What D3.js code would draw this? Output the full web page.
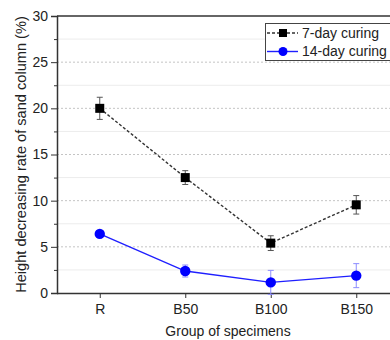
<!DOCTYPE html>
<html>
<head>
<meta charset="utf-8">
<script src="https://cdn.jsdelivr.net/npm/d3@7"></script>
<style>
  body { margin: 0; background: #fff; }
  svg { display: block; font-family: "Liberation Sans", Arial, sans-serif; }
</style>
</head>
<body>
<div id="app"></div>
<script>
const groups = ['R', 'B50', 'B100', 'B150'];
const day7 = [20.0, 12.5, 5.4, 9.55];
const day7Err = [1.2, 0.75, 0.8, 1.0];
const day14 = [6.4, 2.38, 1.15, 1.88];
const day14Err = [0.15, 0.65, 1.3, 1.3];
const yTicks = [0, 5, 10, 15, 20, 25, 30];
const yMinor = [2.5, 7.5, 12.5, 17.5, 22.5, 27.5];
const legendLabels = ['7-day curing', '14-day curing'];

const W = 390, H = 340;
const padL = 57, padT = 16, padB = 293, padR = 399;

const svg = d3.select('#app').append('svg')
  .attr('width', W).attr('height', H);

const x = d3.scaleLinear().domain([0.5, 4.5]).range([padL, padR]);
const y = d3.scaleLinear().domain([0, 30]).range([padB, padT]);

// grid
svg.append('g').selectAll('line').data(yMinor).enter().append('line')
  .attr('x1', padL).attr('x2', W)
  .attr('y1', d => y(d)).attr('y2', d => y(d))
  .attr('stroke', '#ececec').attr('stroke-width', 1);
svg.append('g').selectAll('line').data(yTicks.slice(1, -1)).enter().append('line')
  .attr('x1', padL).attr('x2', W)
  .attr('y1', d => y(d)).attr('y2', d => y(d))
  .attr('stroke', '#c4c4c4').attr('stroke-width', 1)
  .attr('stroke-dasharray', '2,2');

// frame top
svg.append('line').attr('x1', padL).attr('x2', W)
  .attr('y1', y(30)).attr('y2', y(30))
  .attr('stroke', '#333').attr('stroke-width', 1.5);

// y axis
svg.append('g').attr('transform', `translate(${padL},0)`)
  .call(d3.axisLeft(y).tickValues(yTicks).tickSize(6).tickPadding(3));
svg.append('g').attr('transform', `translate(${padL},0)`)
  .call(d3.axisLeft(y).tickValues(yMinor).tickSize(3).tickFormat(''))
  .call(g => g.select('.domain').remove());

// x axis
const xAxis = svg.append('g').attr('transform', `translate(0,${padB})`)
  .call(d3.axisBottom(x).tickValues([1, 2, 3, 4])
    .tickFormat((d, i) => groups[i]).tickSize(5).tickPadding(6)
    .tickSizeOuter(0));
xAxis.select('.domain').attr('d', `M${padL},0.5H${W}`);

svg.selectAll('.domain').attr('stroke', '#333').attr('stroke-width', 1.5);
svg.selectAll('.tick line').attr('stroke', '#333');
svg.selectAll('.tick text').attr('font-size', 14).attr('fill', '#222')
  .attr('font-family', '"Liberation Sans", Arial, sans-serif');

// axis titles
svg.append('text')
  .attr('transform', `translate(21,${(padT + padB) / 2}) rotate(-90)`)
  .attr('text-anchor', 'middle').attr('dy', '0.35em')
  .attr('font-size', 14.6).attr('fill', '#222')
  .text('Height decreasing rate of sand column (%)');
svg.append('text')
  .attr('x', 228).attr('y', 331).attr('dy', '0.35em')
  .attr('text-anchor', 'middle')
  .attr('font-size', 14).attr('fill', '#222')
  .text('Group of specimens');

// series
const idx = d3.range(groups.length);
const line = vals => d3.line().x(i => x(i + 1)).y(i => y(vals[i]))(idx);

svg.append('path').attr('d', line(day7))
  .attr('fill', 'none').attr('stroke', '#333').attr('stroke-width', 1.4)
  .attr('stroke-dasharray', '3,2');
svg.append('path').attr('d', line(day14))
  .attr('fill', 'none').attr('stroke', '#1f1fff').attr('stroke-width', 1.4);

function errorBars(vals, errs, color) {
  const g = svg.append('g').attr('stroke', color).attr('stroke-width', 1);
  idx.forEach(i => {
    const cx = x(i + 1);
    g.append('line').attr('x1', cx).attr('x2', cx)
      .attr('y1', y(vals[i] - errs[i])).attr('y2', y(vals[i] + errs[i]));
    [vals[i] - errs[i], vals[i] + errs[i]].forEach(v => {
      g.append('line').attr('x1', cx - 3).attr('x2', cx + 3)
        .attr('y1', y(v)).attr('y2', y(v));
    });
  });
}
errorBars(day7, day7Err, '#555');
errorBars(day14, day14Err, '#8c8cff');

svg.append('g').selectAll('rect').data(idx).enter().append('rect')
  .attr('x', i => x(i + 1) - 4.5).attr('y', i => y(day7[i]) - 4.5)
  .attr('width', 9).attr('height', 9).attr('fill', '#000');
svg.append('g').selectAll('circle').data(idx).enter().append('circle')
  .attr('cx', i => x(i + 1)).attr('cy', i => y(day14[i]))
  .attr('r', 5.2).attr('fill', '#0000ff');

// legend
const lg = svg.append('g');
lg.append('rect').attr('x', 265.5).attr('y', 23.5).attr('width', 140).attr('height', 37)
  .attr('fill', '#fff').attr('stroke', '#444').attr('stroke-width', 1);
const rows = [33, 51.5];
lg.append('line').attr('x1', 267).attr('x2', 298).attr('y1', rows[0]).attr('y2', rows[0])
  .attr('stroke', '#333').attr('stroke-width', 1.4).attr('stroke-dasharray', '3,2');
lg.append('rect').attr('x', 279).attr('y', rows[0] - 4).attr('width', 8).attr('height', 8)
  .attr('fill', '#000');
lg.append('line').attr('x1', 267).attr('x2', 298).attr('y1', rows[1]).attr('y2', rows[1])
  .attr('stroke', '#1f1fff').attr('stroke-width', 1.4);
lg.append('circle').attr('cx', 283).attr('cy', rows[1]).attr('r', 4.5).attr('fill', '#0000ff');
lg.selectAll('text').data(legendLabels).enter().append('text')
  .attr('x', 302).attr('y', (d, i) => rows[i]).attr('dy', '0.35em')
  .attr('font-size', 14).attr('fill', '#222')
  .text(d => d);
</script>
</body>
</html>
